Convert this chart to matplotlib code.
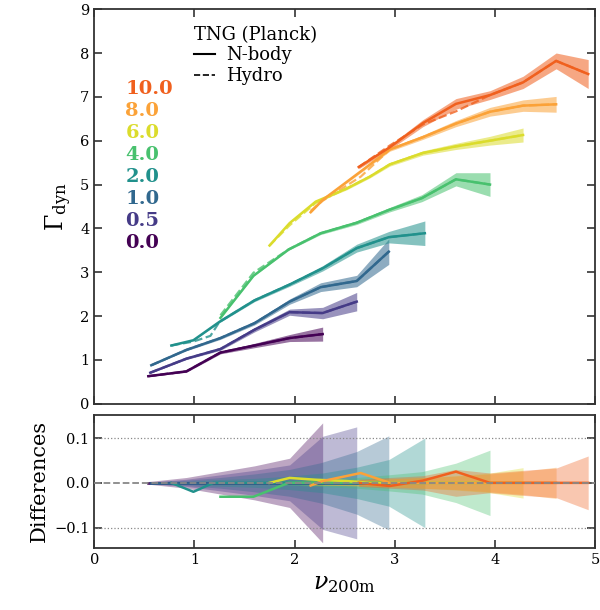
import matplotlib
matplotlib.use("Agg")
import matplotlib.pyplot as plt
import numpy as np

plt.rcParams['font.family'] = ['DejaVu Serif']
plt.rcParams['mathtext.fontset'] = 'dejavuserif'

# redshifts and their colours
z_labels = ["10.0", "8.0", "6.0", "4.0", "2.0", "1.0", "0.5", "0.0"]
z_colors = ['#f0601e', '#fba238', '#dbdc2c', '#48c16e', '#21918c', '#31688e', '#453b87', '#440154']

# N-body: nu, Gamma, error
nu_z0 = [0.54, 0.92, 1.26, 1.60, 1.95, 2.28]
g_z0 = [0.63, 0.74, 1.17, 1.33, 1.50, 1.59]
e_z0 = [0.01, 0.02, 0.03, 0.05, 0.08, 0.16]

nu_z05 = [0.56, 0.92, 1.26, 1.60, 1.95, 2.28, 2.62]
g_z05 = [0.71, 1.03, 1.25, 1.69, 2.09, 2.07, 2.33]
e_z05 = [0.01, 0.02, 0.03, 0.05, 0.07, 0.13, 0.21]

nu_z1 = [0.57, 0.92, 1.26, 1.60, 1.95, 2.26, 2.62, 2.94]
g_z1 = [0.88, 1.23, 1.50, 1.84, 2.33, 2.66, 2.80, 3.47]
e_z1 = [0.01, 0.02, 0.03, 0.04, 0.06, 0.10, 0.13, 0.29]

nu_z2 = [0.77, 0.99, 1.25, 1.60, 1.95, 2.28, 2.62, 2.94, 3.30]
g_z2 = [1.33, 1.45, 1.87, 2.36, 2.72, 3.09, 3.55, 3.80, 3.89]
e_z2 = [0.01, 0.01, 0.02, 0.03, 0.04, 0.06, 0.09, 0.13, 0.28]

nu_z4 = [1.26, 1.59, 1.94, 2.26, 2.62, 2.94, 3.27, 3.61, 3.95]
g_z4 = [1.96, 2.92, 3.52, 3.89, 4.13, 4.42, 4.69, 5.12, 5.00]
e_z4 = [0.01, 0.01, 0.02, 0.03, 0.04, 0.05, 0.08, 0.15, 0.27]

nu_z6 = [1.75, 1.95, 2.21, 2.52, 2.75, 2.95, 3.28, 3.61, 3.95, 4.28]
g_z6 = [3.61, 4.12, 4.61, 4.91, 5.18, 5.46, 5.72, 5.87, 6.00, 6.13]
e_z6 = [0.01, 0.01, 0.02, 0.03, 0.03, 0.04, 0.05, 0.07, 0.10, 0.16]

nu_z8 = [2.16, 2.28, 2.66, 2.95, 3.28, 3.61, 3.95, 4.28, 4.61]
g_z8 = [4.37, 4.65, 5.30, 5.80, 6.08, 6.39, 6.66, 6.80, 6.83]
e_z8 = [0.02, 0.02, 0.03, 0.04, 0.05, 0.07, 0.10, 0.13, 0.18]

nu_z10 = [2.64, 2.95, 3.28, 3.61, 3.95, 4.28, 4.61, 4.93]
g_z10 = [5.40, 5.85, 6.40, 6.84, 7.04, 7.33, 7.82, 7.52]
e_z10 = [0.04, 0.05, 0.08, 0.12, 0.10, 0.14, 0.18, 0.33]

# Hydro
hnu_z2 = [0.77, 0.99, 1.16, 1.25, 1.60, 1.95, 2.28, 2.62, 2.94, 3.30]
hg_z2 = [1.33, 1.42, 1.55, 1.87, 2.36, 2.72, 3.09, 3.55, 3.80, 3.89]
hg_z4 = [2.02, 2.99, 3.52, 3.89, 4.13, 4.42, 4.69, 5.12, 5.00]
hg_z6 = [3.61, 4.07, 4.58, 4.91, 5.18, 5.46, 5.72, 5.87, 6.00, 6.13]
hg_z8 = [4.40, 4.63, 5.18, 5.80, 6.08, 6.39, 6.66, 6.80, 6.83]
hg_z10 = [5.40, 5.89, 6.37, 6.67, 7.04, 7.33, 7.82, 7.52]

# Differences panel: relative difference and band half-width
dnu_z2 = [0.77, 0.99, 1.19, 1.60, 1.95, 2.28, 2.62, 2.94, 3.30]
d_z0 = [0, 0, 0, 0, 0, 0]
d_z05 = [0, 0, 0, 0, 0, 0, 0]
d_z1 = [0, 0, 0, 0, 0, 0, 0, 0]
d_z2 = [0, -0.02, 0, 0, 0, 0, 0, 0, 0]
d_z4 = [-0.031, -0.031, 0, 0, 0, 0, 0, 0, 0]
d_z6 = [0, 0.011, 0.007, 0.004, 0, 0, 0, 0, 0, 0]
d_z8 = [-0.006, 0.004, 0.022, 0, 0, 0, 0, 0, 0]
d_z10 = [0, -0.007, 0.005, 0.025, 0, 0, 0, 0]

b_z0 = [0.003, 0.012, 0.025, 0.038, 0.055, 0.134]
b_z05 = [0.002, 0.008, 0.018, 0.028, 0.040, 0.104, 0.125]
b_z1 = [0.002, 0.006, 0.012, 0.020, 0.030, 0.045, 0.070, 0.105]
b_z2 = [0.002, 0.004, 0.007, 0.010, 0.015, 0.022, 0.035, 0.052, 0.100]
b_z4 = [0.002, 0.003, 0.005, 0.008, 0.012, 0.018, 0.025, 0.044, 0.073]
b_z6 = [0.002, 0.003, 0.005, 0.006, 0.007, 0.009, 0.012, 0.016, 0.022, 0.034]
b_z8 = [0.004, 0.005, 0.007, 0.009, 0.012, 0.015, 0.020, 0.026, 0.035]
b_z10 = [0.008, 0.012, 0.016, 0.030, 0.022, 0.028, 0.033, 0.060]

nbody = [(nu_z10, g_z10, e_z10), (nu_z8, g_z8, e_z8), (nu_z6, g_z6, e_z6), (nu_z4, g_z4, e_z4),
         (nu_z2, g_z2, e_z2), (nu_z1, g_z1, e_z1), (nu_z05, g_z05, e_z05), (nu_z0, g_z0, e_z0)]
hydro = [(nu_z10, hg_z10), (nu_z8, hg_z8), (nu_z6, hg_z6), (nu_z4, hg_z4),
         (hnu_z2, hg_z2), (nu_z1, g_z1), (nu_z05, g_z05), (nu_z0, g_z0)]
diffs = [(nu_z10, d_z10, b_z10), (nu_z8, d_z8, b_z8), (nu_z6, d_z6, b_z6), (nu_z4, d_z4, b_z4),
         (dnu_z2, d_z2, b_z2), (nu_z1, d_z1, b_z1), (nu_z05, d_z05, b_z05), (nu_z0, d_z0, b_z0)]

fig = plt.figure(figsize=(6, 6.1), dpi=100)
ax = fig.add_axes([0.157, 0.338, 0.835, 0.647])
ax2 = fig.add_axes([0.157, 0.102, 0.835, 0.218])

# main panel, low z drawn first; hydro under the N-body line
for (x, g), c in list(zip(hydro, z_colors))[::-1]:
    ax.plot(x, g, color=c, lw=1.6, ls='--', alpha=0.8)
for (x, g, e), c in list(zip(nbody, z_colors))[::-1]:
    x, g, e = np.array(x), np.array(g), np.array(e)
    ax.fill_between(x, g - e, g + e, color=c, alpha=0.55, lw=0)
    ax.plot(x, g, color=c, lw=1.8)

# differences panel
for (x, d, b), c in list(zip(diffs, z_colors))[::-1]:
    x, b = np.array(x), np.array(b)
    ax2.fill_between(x, -b, b, color=c, alpha=0.35, lw=0)
for (x, d, b), c in list(zip(diffs, z_colors))[::-1]:
    ax2.plot(x, d, color=c, lw=1.8)
ax2.axhline(0, color='#888888', ls='--', lw=1.3, zorder=5)
for yv in (-0.1, 0.1):
    ax2.axhline(yv, color='#888888', ls=':', lw=0.9)

for a in (ax, ax2):
    a.set_xlim(0, 5)
    a.tick_params(direction='in', top=True, right=True, length=6, width=1.2,
                  labelsize=10.5, color='#333333')
    for s in a.spines.values():
        s.set_color('#333333')
        s.set_linewidth(1.3)

ax.set_ylim(0, 9)
ax.set_yticks(range(10))
ax.set_xticks(range(6))
ax.set_xticklabels([])
ax.set_ylabel(r'$\Gamma_{\rm dyn}$', fontsize=17)

ax2.set_ylim(-0.145, 0.152)
ax2.set_yticks([-0.1, 0.0, 0.1])
ax2.set_xticks(range(6))
ax2.set_ylabel('Differences', fontsize=15)
ax2.set_xlabel(r'$\nu_{\rm 200m}$', fontsize=17)

# redshift labels
for i, (lab, c) in enumerate(zip(z_labels, z_colors)):
    ax.text(0.062, 0.797 - i * 0.0555, lab, color=c, fontsize=14, fontweight='bold',
            transform=ax.transAxes, va='center', ha='left')

# legend
h1, = ax.plot([], [], color='k', lw=1.5, ls='-')
h2, = ax.plot([], [], color='k', lw=1.2, ls='--')
leg = ax.legend([h1, h2], ['N-body', 'Hydro'], title='TNG (Planck)', loc='upper left',
                bbox_to_anchor=(0.173, 0.99), frameon=False, fontsize=13, title_fontsize=13,
                handlelength=1.2, handletextpad=0.6, labelspacing=0.15, borderpad=0.2,
                alignment='left')

fig.savefig('out.png', dpi=100)
